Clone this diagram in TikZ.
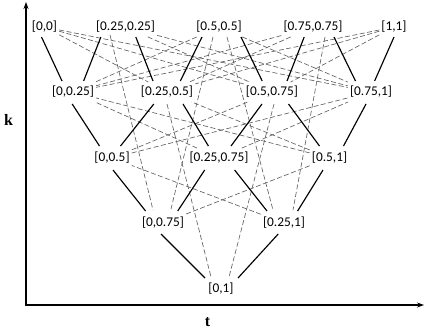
\documentclass[tikz,border=0pt]{standalone}
\usepackage{fontspec}
\setmainfont{Carlito}
\newfontfamily\axisfont{Liberation Serif}
\usetikzlibrary{calc,arrows.meta}
\tikzset{
  lbl/.style={font=\fontsize{13.4}{16}\selectfont, inner xsep=2bp, inner ysep=4bp, text=black},
  axlbl/.style={font=\axisfont\bfseries\fontsize{16}{18}\selectfont, inner sep=0pt},
  solidl/.style={line width=1.15bp, black},
  dashl/.style={line width=0.65bp, black!62, dash pattern=on 5bp off 2.5bp},
  axisl/.style={line width=1.1bp, black, -{Stealth[length=7bp,width=5bp]}}
}
\newcommand{\sline}[6]{\draw[solidl] ($(#1)+(#2,#3)$) -- ($(#4)+(#5,#6)$);}
\newcommand{\dline}[6]{\draw[dashl] ($(#1)+(#2,#3)$) -- ($(#4)+(#5,#6)$);}
\begin{document}
\begin{tikzpicture}[x=1bp,y=-1bp]
\useasboundingbox (0,0) rectangle (436,335);
% nodes
\node[lbl] (r1a) at (44.5,27) {[0,0]};
\node[lbl] (r1b) at (125.5,27) {[0.25,0.25]};
\node[lbl] (r1c) at (219,27) {[0.5,0.5]};
\node[lbl] (r1d) at (313,27) {[0.75,0.75]};
\node[lbl] (r1e) at (394,27) {[1,1]};
\node[lbl] (r2a) at (73,92) {[0,0.25]};
\node[lbl] (r2b) at (167,92) {[0.25,0.5]};
\node[lbl] (r2c) at (272,92) {[0.5,0.75]};
\node[lbl] (r2d) at (371,92) {[0.75,1]};
\node[lbl] (r3a) at (112,158) {[0,0.5]};
\node[lbl] (r3b) at (219,158) {[0.25,0.75]};
\node[lbl] (r3c) at (329.5,158) {[0.5,1]};
\node[lbl] (r4a) at (163,223) {[0,0.75]};
\node[lbl] (r4b) at (284,223) {[0.25,1]};
\node[lbl] (r5) at (221,289) {[0,1]};
% axes
\coordinate (O) at (26,305);
\coordinate (ytop) at (26,2);
\coordinate (xend) at (424,305);
\draw[axisl] ($(O)+(0,0.5)$) -- (ytop);
\draw[axisl] ($(O)+(-0.5,0)$) -- (xend);
\node[axlbl] (klbl) at (8.5,119.5) {k};
\node[axlbl] (tlbl) at (207.5,322) {t};
% dashed, adjacent rows
\foreach \a/\b in {r1a/r2b,r1a/r2c,r1a/r2d,r1b/r2c,r1b/r2d,r1c/r2a,r1c/r2d,r1d/r2a,r1d/r2b,r1e/r2a,r1e/r2b,r1e/r2c,
  r3a/r2c,r3a/r2d,r3b/r2a,r3b/r2d,r3c/r2a,r3c/r2b,r4a/r3c,r4b/r3a}
  \draw[dashl] (\a) -- (\b);
% long dashed
\dline{r1b}{-15.5}{8}{r4a}{-10}{-13}
\dline{r1c}{-6}{10}{r4a}{8}{-14}
\dline{r1c}{8}{10}{r4b}{-11}{-13}
\dline{r1d}{12}{10}{r4b}{9}{-13}
\dline{r2b}{0}{12}{r5}{-10}{-12}
\dline{r2c}{2}{12}{r5}{8}{-12}
% solid
\sline{r1a}{-3}{10}{r2a}{-11}{-11}
\sline{r1b}{-24.6}{10}{r2a}{10.6}{-11}
\sline{r1b}{10.3}{10}{r2b}{-14}{-11}
\sline{r1c}{-17}{10}{r2b}{13.3}{-11}
\sline{r1c}{22}{10}{r2c}{-9.8}{-11}
\sline{r1d}{-8.8}{10}{r2c}{15}{-11}
\sline{r1d}{21}{10}{r2d}{-15.5}{-11}
\sline{r1e}{0}{10}{r2d}{3.6}{-11}
\sline{r2a}{-0.8}{12}{r3a}{-12.5}{-12}
\sline{r2b}{-13.2}{12}{r3a}{8.5}{-12}
\sline{r2b}{16}{12}{r3b}{-10.6}{-12}
\sline{r2c}{-10}{12}{r3b}{12}{-12}
\sline{r2c}{16.5}{12}{r3c}{-10}{-12}
\sline{r2d}{-5}{12}{r3c}{14}{-12}
\sline{r3a}{1}{12}{r4a}{-17.4}{-12}
\sline{r3b}{-14.3}{12}{r4a}{14.7}{-12}
\sline{r3b}{15.6}{12}{r4b}{-17}{-12}
\sline{r3c}{-6.5}{12}{r4b}{13.6}{-12}
\sline{r4a}{-2}{11}{r5}{-16}{-11}
\sline{r4b}{-5.8}{11}{r5}{17}{-11}
\end{tikzpicture}
\end{document}
